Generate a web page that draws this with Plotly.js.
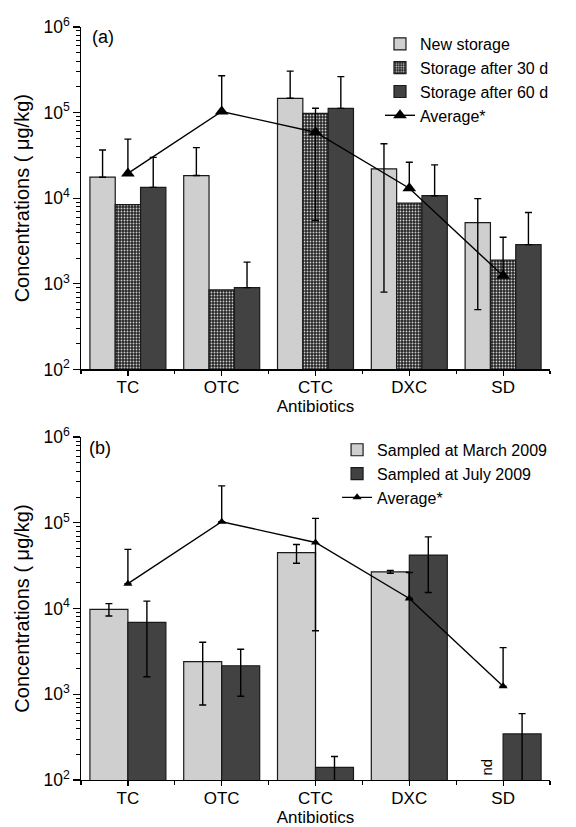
<!DOCTYPE html>
<html>
<head>
<meta charset="utf-8">
<script src="https://cdn.plot.ly/plotly-3.0.1.min.js"></script>
<style>
  html, body { margin: 0; padding: 0; background: #ffffff; }
  #chart { width: 576px; height: 827px; }
</style>
</head>
<body>
<div id="chart"></div>
<script>
// ---- Data ----
const categories = ['TC', 'OTC', 'CTC', 'DXC', 'SD'];

// Panel (a)
const newStorage        = [17600, 18400, 147000, 22000, 5200];
const newStorageErrUp   = [19000, 20600, 158000, 21200, 4700];
const newStorageErrDown = [0, 0, 0, 21200, 4700];
const after30d          = [8400, 850, 98000, 8750, 1900];
const after60d          = [13400, 903, 112000, 10700, 2870];
const after60dErrUp     = [16600, 890, 151000, 13800, 3930];
const average           = [19500, 103000, 59000, 13100, 1240];
const averageErrUp      = [29500, 167000, 53500, 13200, 2260];
const averageErrDown    = [0, 0, 53500, 0, 0];

// Panel (b)
const march2009    = [9800, 2400, 44800, 26800, null];   // SD: nd
const march2009Err = [1600, 1650, 11000, 1000, null];
const july2009     = [6900, 2150, 140, 42000, 345];
const july2009Err  = [5300, 1200, 48, 26600, 250];

const seriesNamesA = ['New storage', 'Storage after 30 d', 'Storage after 60 d', 'Average*'];
const seriesNamesB = ['Sampled at March 2009', 'Sampled at July 2009', 'Average*'];

// ---- Styling ----
const FONT = 'Liberation Sans, Arial, Helvetica, sans-serif';
const LIGHT = '#cfcfcf';
const DARK = '#424242';
const xIdx = categories.map((c, i) => i);

const errStyle = { color: '#000', thickness: 1.4, width: 3.5 };

const traces = [
  {
    type: 'bar', name: seriesNamesA[0], x: xIdx, y: newStorage,
    xaxis: 'x', yaxis: 'y', legend: 'legend',
    marker: { color: LIGHT, line: { color: '#1a1a1a', width: 1.2 } },
    error_y: Object.assign({ type: 'data', symmetric: false, array: newStorageErrUp, arrayminus: newStorageErrDown }, errStyle)
  },
  {
    type: 'bar', name: seriesNamesA[1], x: xIdx, y: after30d,
    xaxis: 'x', yaxis: 'y', legend: 'legend',
    marker: { color: '#2a2a2a', line: { color: '#1a1a1a', width: 1.2 },
              pattern: { shape: '.', fgcolor: '#cfcfcf', bgcolor: '#262626', size: 3, solidity: 0.3 } }
  },
  {
    type: 'bar', name: seriesNamesA[2], x: xIdx, y: after60d,
    xaxis: 'x', yaxis: 'y', legend: 'legend',
    marker: { color: DARK, line: { color: '#1a1a1a', width: 1.2 } },
    error_y: Object.assign({ type: 'data', symmetric: false, array: after60dErrUp, arrayminus: [0, 0, 0, 0, 0] }, errStyle)
  },
  {
    type: 'scatter', mode: 'lines+markers', name: seriesNamesA[3], x: xIdx, y: average,
    xaxis: 'x', yaxis: 'y', legend: 'legend',
    line: { color: '#000', width: 1.4 },
    marker: { symbol: 'triangle-up', size: 12, color: '#000' },
    error_y: Object.assign({ type: 'data', symmetric: false, array: averageErrUp, arrayminus: averageErrDown }, errStyle)
  },
  {
    type: 'bar', name: seriesNamesB[0], x: xIdx, y: march2009,
    xaxis: 'x2', yaxis: 'y2', legend: 'legend2',
    marker: { color: LIGHT, line: { color: '#1a1a1a', width: 1.2 } },
    error_y: Object.assign({ type: 'data', array: march2009Err }, errStyle)
  },
  {
    type: 'bar', name: seriesNamesB[1], x: xIdx, y: july2009,
    xaxis: 'x2', yaxis: 'y2', legend: 'legend2',
    marker: { color: DARK, line: { color: '#1a1a1a', width: 1.2 } },
    error_y: Object.assign({ type: 'data', array: july2009Err }, errStyle)
  },
  {
    type: 'scatter', mode: 'lines+markers', name: seriesNamesB[2], x: xIdx, y: average,
    xaxis: 'x2', yaxis: 'y2', legend: 'legend2',
    line: { color: '#000', width: 1.4 },
    marker: { symbol: 'triangle-up', size: 8, color: '#000' },
    error_y: Object.assign({ type: 'data', symmetric: false, array: averageErrUp, arrayminus: averageErrDown }, errStyle)
  }
];

function xAxis(anchor) {
  return {
    anchor: anchor, domain: [0, 1], range: [-0.5, 4.5],
    tickmode: 'array', tickvals: xIdx, ticktext: categories,
    ticks: 'outside', ticklen: 5, tickwidth: 1.2, tickcolor: '#000',
    ticklabelstandoff: -3,
    minor: { tick0: 0.5, dtick: 1, ticks: 'outside', ticklen: 3.5, tickwidth: 1.2, tickcolor: '#000' },
    showline: true, linecolor: '#000', linewidth: 1.4,
    showgrid: false, zeroline: false, fixedrange: true,
    tickfont: { family: FONT, size: 17, color: '#000' },
    title: { text: 'Antibiotics', font: { family: FONT, size: 17, color: '#000' }, standoff: 3 }
  };
}
function yAxis(anchor, domain) {
  return {
    anchor: anchor, domain: domain, type: 'log', range: [2, 6],
    tick0: 0, dtick: 1, exponentformat: 'power', showexponent: 'all',
    ticks: 'outside', ticklen: 7, tickwidth: 1.2, tickcolor: '#000',
    minor: { dtick: 'D1', ticks: 'outside', ticklen: 4, tickwidth: 1, tickcolor: '#000' },
    showline: true, linecolor: '#000', linewidth: 1.4,
    showgrid: false, zeroline: false, fixedrange: true,
    tickfont: { family: FONT, size: 14, color: '#000' },
    title: { text: 'Concentrations ( μg/kg)', font: { family: FONT, size: 20, color: '#000' }, standoff: 8 }
  };
}

const layout = {
  width: 576, height: 827,
  margin: { l: 81, r: 26, t: 27, b: 47 },
  paper_bgcolor: '#fff', plot_bgcolor: '#fff',
  font: { family: FONT, color: '#000' },
  barmode: 'group', bargap: 0.19, bargroupgap: 0,
  showlegend: true,
  xaxis: xAxis('y'),
  yaxis: yAxis('x', [0.5452, 1]),
  xaxis2: xAxis('y2'),
  yaxis2: yAxis('x2', [0, 0.4554]),
  legend: {
    x: 0.6375, xanchor: 'left', y: 1, yanchor: 'top',
    bgcolor: 'rgba(0,0,0,0)', borderwidth: 0, tracegroupgap: 0, traceorder: 'normal',
    font: { family: FONT, size: 16, color: '#000' }
  },
  legend2: {
    x: 0.546, xanchor: 'left', y: 0.461, yanchor: 'top',
    bgcolor: 'rgba(0,0,0,0)', borderwidth: 0, tracegroupgap: 0, traceorder: 'normal',
    font: { family: FONT, size: 16, color: '#000' }
  },
  annotations: [
    { text: '(a)', xref: 'paper', yref: 'paper', x: 0.019, y: 0.9867, xanchor: 'left', yanchor: 'middle',
      showarrow: false, font: { family: FONT, size: 18, color: '#000' } },
    { text: '(b)', xref: 'paper', yref: 'paper', x: 0.013, y: 0.4409, xanchor: 'left', yanchor: 'middle',
      showarrow: false, font: { family: FONT, size: 18, color: '#000' } },
    { text: 'nd', xref: 'x2', yref: 'y2', x: categories.indexOf('SD'), y: 2, xshift: -17, yshift: 2,
      xanchor: 'center', yanchor: 'bottom', textangle: -90,
      showarrow: false, font: { family: FONT, size: 15, color: '#000' } }
  ]
};

Plotly.newPlot('chart', traces, layout, { staticPlot: true, displayModeBar: false });
</script>
</body>
</html>
